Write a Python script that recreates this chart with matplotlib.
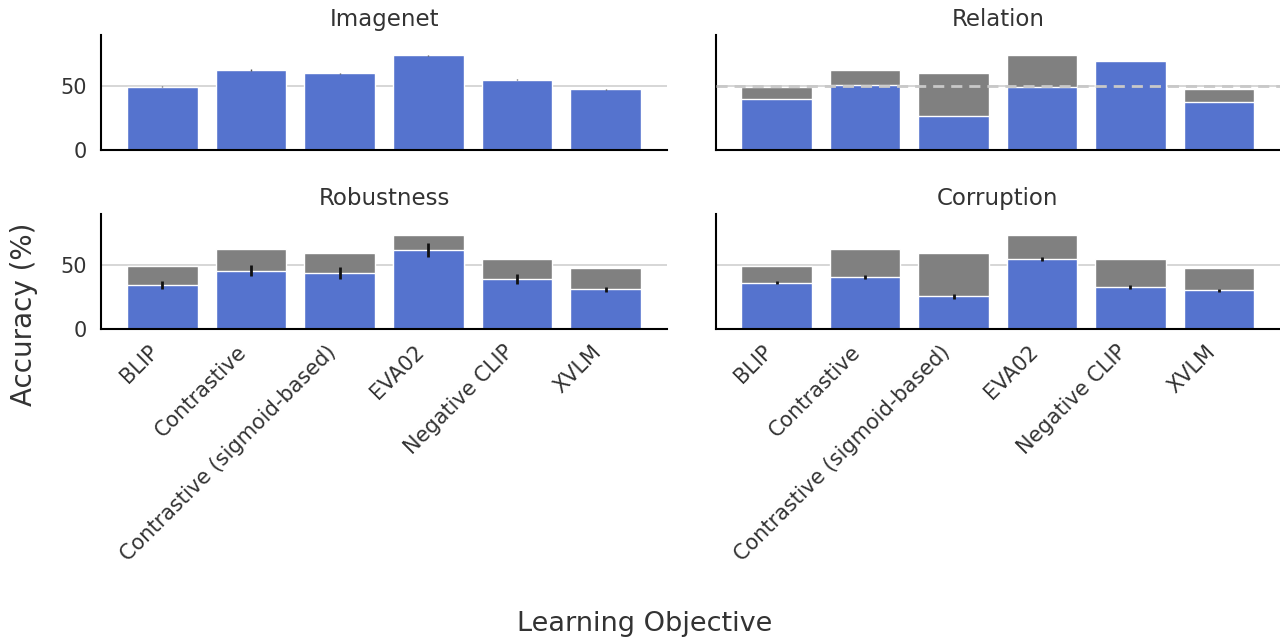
import numpy as np
import matplotlib
matplotlib.use("Agg")
from matplotlib import pyplot as plt

models = ["BLIP", "Contrastive", "Contrastive (sigmoid-based)", "EVA02", "Negative CLIP", "XVLM"]

# accuracy per benchmark (%)
imagenet = [49.5, 62.6, 60.0, 74.2, 55.0, 47.6]
imagenet_err = [0.5, 0.5, 0.5, 0.6, 0.5, 0.4]
relation = [39.5, 50.5, 26.5, 49.5, 69.7, 37.4]
robustness = [34.5, 45.9, 44.3, 62.0, 39.4, 31.1]
robustness_err = [3.2, 4.4, 4.7, 5.3, 4.0, 2.1]
corruption = [36.3, 40.7, 25.7, 55.0, 32.9, 30.3]
corruption_err = [1.3, 1.3, 2.0, 1.6, 1.3, 1.0]
chance = 50

blue = "#5573ce"
gray = "#808080"
txt = "#333333"

plt.rcParams["font.family"] = "DejaVu Sans"
plt.rcParams["text.color"] = txt
plt.rcParams["axes.labelcolor"] = txt
plt.rcParams["xtick.color"] = txt
plt.rcParams["ytick.color"] = txt

fig = plt.figure(figsize=(12.8, 6.4), dpi=100)
ax_img = fig.add_axes([0.079, 0.766, 0.442, 0.18])
ax_rel = fig.add_axes([0.559, 0.766, 0.441, 0.18], sharey=ax_img)
ax_rob = fig.add_axes([0.079, 0.486, 0.442, 0.18], sharey=ax_img)
ax_cor = fig.add_axes([0.559, 0.486, 0.441, 0.18], sharey=ax_img)

x = np.arange(len(models))

panels = [
    (ax_img, "Imagenet", None, None),
    (ax_rel, "Relation", relation, None),
    (ax_rob, "Robustness", robustness, robustness_err),
    (ax_cor, "Corruption", corruption, corruption_err),
]

for ax, title, vals, err in panels:
    ax.set_axisbelow(True)
    ax.yaxis.grid(True, color="#d0d0d0", lw=1.2)
    if vals is None:
        ax.bar(x, imagenet, width=0.8, color=blue, edgecolor="white", lw=1,
               yerr=imagenet_err, error_kw=dict(ecolor="#555555", lw=1))
    else:
        # imagenet accuracy as the gray reference behind each bar
        ax.bar(x, imagenet, width=0.8, color=gray, edgecolor="white", lw=1)
        if err is None:
            ax.bar(x, vals, width=0.8, color=blue, edgecolor="white", lw=1)
        else:
            ax.bar(x, vals, width=0.8, color=blue, edgecolor="white", lw=1,
                   yerr=err, error_kw=dict(ecolor="#111111", lw=2))
    if title == "Relation":
        ax.axhline(chance, color="#c8c8c8", lw=2, ls=(0, (4, 2.5)), zorder=5)
    ax.set_title(title, fontsize=16.5, pad=6)
    ax.spines["top"].set_visible(False)
    ax.spines["right"].set_visible(False)
    for s in ("left", "bottom"):
        ax.spines[s].set_color("black")
        ax.spines[s].set_linewidth(1.5)
    ax.tick_params(length=0, labelsize=15)
    ax.tick_params(axis="y", pad=10.5)
    ax.tick_params(axis="x", pad=9)
    ax.set_xticks(x)

ax_img.set_ylim(0, 90.5)
ax_img.set_yticks([0, 50])

for ax in (ax_img, ax_rel):
    ax.tick_params(labelbottom=False)
for ax in (ax_rel, ax_cor):
    ax.tick_params(labelleft=False)
for ax in (ax_rob, ax_cor):
    ax.set_xticklabels(models, rotation=45, ha="right")

fig.supylabel("Accuracy (%)", fontsize=20, x=0.008, y=0.509)
fig.supxlabel("Learning Objective", fontsize=19.5, x=0.504, y=0.004)

fig.savefig("out.png", dpi=100)
